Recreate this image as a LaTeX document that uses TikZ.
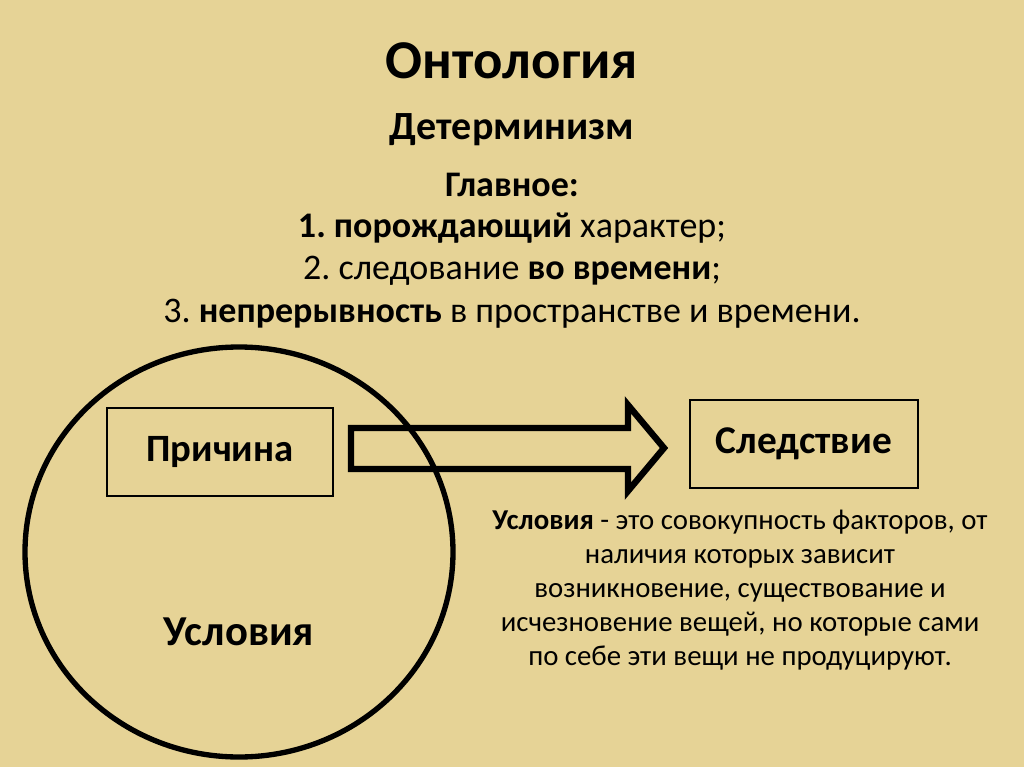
\documentclass[tikz,border=0pt]{standalone}
\usepackage{fontspec}
\setmainfont{Carlito}
\frenchspacing
\begin{document}
\begin{tikzpicture}[x=0.75pt,y=-0.75pt,
  txt/.style={text=black,inner sep=0pt,align=center},
  thinbox/.style={draw=black,line width=2.2pt,inner sep=0pt},
  thick/.style={draw=black,line width=4pt}]
\fill[fill={rgb,255:red,230;green,211;blue,150}] (0,0) rectangle (1024,767);
\useasboundingbox (0,0) rectangle (1024,767);
% title
\node[txt,font=\fontsize{41}{48}\selectfont\bfseries] (title) at (512,61) {Онтология};
\node[txt,font=\fontsize{30}{36}\selectfont\bfseries] (det) at (512,130) {Детерминизм};
\node[txt,font=\fontsize{27}{32}\selectfont\bfseries] (glav) at (512,185) {Главное:};
\node[txt,font=\fontsize{27}{32}\selectfont] (l1) at (512,228) {\textbf{1. порождающий} характер;};
\node[txt,font=\fontsize{27}{32}\selectfont] (l2) at (512,271) {2. следование \textbf{во времени};};
\node[txt,font=\fontsize{27}{32}\selectfont] (l3) at (512,314) {3. \textbf{непрерывность} в пространстве и времени.};
% circle of conditions
\draw[thick] (239,552) ellipse [x radius=214, y radius=205];
\node[txt,font=\fontsize{32}{38}\selectfont\bfseries] (usl) at (239,632) {Условия};
% cause box
\node[thinbox,minimum width=226*0.75pt,minimum height=88*0.75pt,font=\fontsize{29}{34}\selectfont\bfseries] (cause) at (220,452) {Причина};
% effect box
\node[thinbox,minimum width=228*0.75pt,minimum height=88*0.75pt,font=\fontsize{29.5}{35}\selectfont\bfseries] (eff) at (804,444) {Следствие};
% block arrow
\coordinate (a1) at (351,428);
\draw[line width=4.8pt,line join=miter] (a1) -- (628,428) -- (628,405) -- (664,448) -- (628,491) -- (628,469) -- (351,469) -- cycle;
% description
\node[txt,font=\fontsize{21.6}{25.5}\selectfont] (desc) at (740,590) {\textbf{Условия} - это совокупность факторов, от\\наличия которых зависит\\возникновение, существование и\\исчезновение вещей, но которые сами\\по себе эти вещи не продуцируют.};
\end{tikzpicture}
\end{document}
